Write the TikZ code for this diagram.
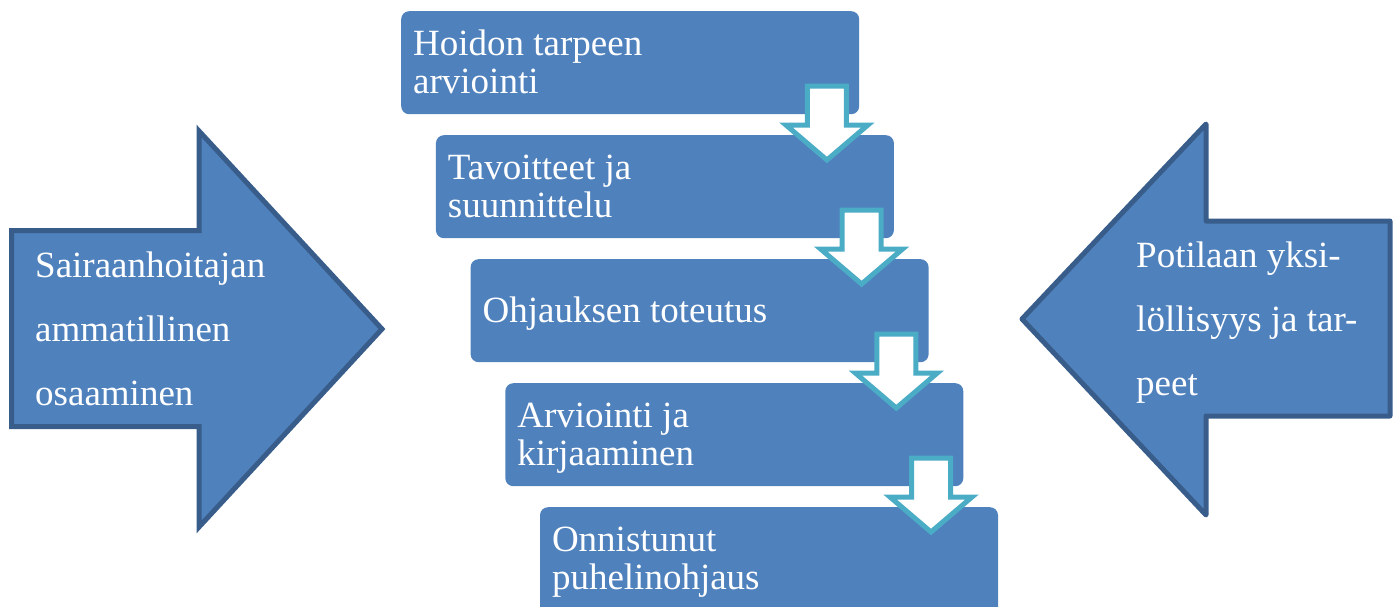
\documentclass[tikz,border=0pt]{standalone}
\usepackage{fontspec}
\setmainfont{Liberation Serif}
\newfontfamily\boxfont{Liberation Serif}
\usetikzlibrary{calc}
\definecolor{boxblue}{HTML}{4F81BD}
\definecolor{edgeblue}{HTML}{385D8A}
\definecolor{arrowteal}{HTML}{4BACC6}
\tikzset{
  stepbox/.style={rectangle, fill=boxblue, rounded corners=8pt, minimum width=458pt, minimum height=103pt, inner sep=0pt, anchor=north west},
  bigarrow/.style={fill=boxblue, draw=edgeblue, line width=5pt},
  downarrow/.style={fill=white, draw=arrowteal, line width=5pt, line join=miter},
  boxtext/.style={anchor=base west, inner sep=0pt, text=white, font=\boxfont\fontsize{37}{38}\selectfont},
  sidetext/.style={anchor=base west, inner sep=0pt, text=white, font=\boxfont\fontsize{37}{64}\selectfont}
}
\begin{document}
\begin{tikzpicture}[x=1pt, y=-1pt]
\useasboundingbox (0,0) rectangle (1397,606);
% side arrows
\draw[bigarrow, line join=miter] (11.5,230.5) -- (199,230.5) -- (199,131) -- (382,329) -- (199,527) -- (199,426.5) -- (11.5,426.5) -- cycle;
\node[sidetext] (lt) at (35,277) {\begin{tabular}[t]{@{}l@{}}Sairaanhoitajan\\ammatillinen\\osaaminen\end{tabular}};
\draw[bigarrow, line join=round] (1390,221) -- (1206,221) -- (1206,124) -- (1022,319) -- (1206,515) -- (1206,416) -- (1390,416) -- cycle;
\node[sidetext] (rt) at (1136,267) {\begin{tabular}[t]{@{}l@{}}Potilaan yksi-\\löllisyys ja tar-\\peet\end{tabular}};
% boxes
\node[stepbox] (b1) at (401,11) {};
\node[stepbox] (b2) at (435.7,135) {};
\node[stepbox] (b3) at (470.4,259) {};
\node[stepbox] (b4) at (505.1,383) {};
\node[stepbox, minimum height=115pt] (b5) at (539.8,507) {};
\node[boxtext] (t1) at ($(b1.north west)+(12,44)$) {\begin{tabular}[t]{@{}l@{}}Hoidon tarpeen\\arviointi\end{tabular}};
\node[boxtext] (t2) at ($(b2.north west)+(12,44)$) {\begin{tabular}[t]{@{}l@{}}Tavoitteet ja\\suunnittelu\end{tabular}};
\node[boxtext] (t3) at ($(b3.north west)+(12,63)$) {Ohjauksen toteutus};
\node[boxtext] (t4) at ($(b4.north west)+(12,44)$) {\begin{tabular}[t]{@{}l@{}}Arviointi ja\\kirjaaminen\end{tabular}};
\node[boxtext] (t5) at ($(b5.north west)+(12,44)$) {\begin{tabular}[t]{@{}l@{}}Onnistunut\\puhelinohjaus\end{tabular}};
% down arrows
\foreach \k in {1,2,3,4}{
  \coordinate (a\k) at ($(b\k.north east)+(-32.5,75)$);
  \draw[downarrow] (a\k) ++(-19.5,0) -- ++(0,39) -- ++(-21.5,0) -- ++(41,35) -- ++(41,-35) -- ++(-21.5,0) -- ++(0,-39) -- cycle;
}
\end{tikzpicture}
\end{document}
